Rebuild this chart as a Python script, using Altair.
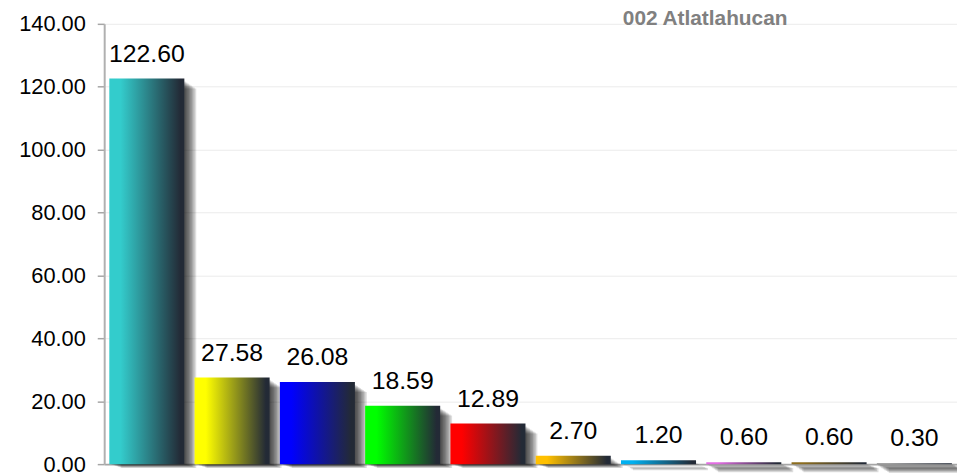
import altair as alt
import pandas as pd

# ---- data ----
categories = ["PANAL", "PRD", "PAN", "PVEM", "PRI", "MC", "PSD", "PT", "PES", "PH"]
values = [122.60, 27.58, 26.08, 18.59, 12.89, 2.70, 1.20, 0.60, 0.60, 0.30]
colors = ["#33CCCC", "#FFFF00", "#0000FF", "#00FF00", "#FF0000",
          "#FFC000", "#00B0F0", "#E36CE3", "#8C6D1F", "#8A8A8A"]
y_ticks = [0, 20, 40, 60, 80, 100, 120, 140]
title_text = "002 Atlatlahucan"

df = pd.DataFrame({"cat": categories, "val": values})

FONT = "Liberation Sans"
DARK = "#232a36"

x_enc = alt.X(
    "cat:N", sort=categories,
    scale=alt.Scale(paddingInner=0.12, paddingOuter=0.06),
    axis=alt.Axis(labels=False, ticks=False, title=None, grid=False,
                  domainColor="#a6a6a6", domainWidth=2),
)
y_enc = alt.Y(
    "val:Q",
    scale=alt.Scale(domain=[0, 140], nice=False, zero=True),
    axis=alt.Axis(values=y_ticks, format=".2f", title=None,
                  labelFont=FONT, labelFontSize=22, labelColor="#000000",
                  labelPadding=12, tickSize=7, tickColor="#a6a6a6", tickWidth=1.5,
                  domainColor="#b0b0b0", domainWidth=2,
                  grid=True, gridColor="#ebebeb", gridWidth=1),
)

base = alt.Chart(df)

layers = []
# soft drop shadow built from stacked, offset translucent bars
for k in range(1, 9):
    layers.append(
        base.mark_bar(color="#000000", opacity=0.13,
                      xOffset=1.5 * k, yOffset=2 + k, y2Offset=0.5 * k)
        .encode(x=x_enc, y=y_enc, y2=alt.datum(0))
    )

# one gradient bar per category
for cat, col in zip(categories, colors):
    grad = alt.Gradient(
        gradient="linear", x1=0, x2=1, y1=0, y2=0,
        stops=[alt.GradientStop(color=col, offset=0),
               alt.GradientStop(color=col, offset=0.15),
               alt.GradientStop(color=DARK, offset=0.95),
               alt.GradientStop(color=DARK, offset=1)],
    )
    layers.append(
        base.transform_filter(alt.datum.cat == cat)
        .mark_bar(fill=grad, strokeWidth=0)
        .encode(x=x_enc, y=y_enc, y2=alt.datum(0))
    )

labels = base.mark_text(
    dy=-17, baseline="alphabetic", align="center",
    fontSize=25, font=FONT, color="#000000",
).encode(x=x_enc, y=y_enc, text=alt.Text("val:Q", format=".2f"))
layers.append(labels)

# chart title, drawn as a text annotation just above the plot area
title_df = pd.DataFrame({"t": [title_text]})
title_mark = alt.Chart(title_df).mark_text(
    align="center", baseline="alphabetic", fontSize=21, fontWeight="bold",
    font=FONT, color="#808080",
).encode(x=alt.value(606), y=alt.value(1), text="t:N")
layers.append(title_mark)

chart = alt.layer(*layers).properties(
    width=860, height=444,
    autosize=alt.AutoSizeParams(type="none"),
    padding={"left": 97, "top": 14, "right": 0, "bottom": 10},
).configure_view(stroke=None)

chart.save("out.html", embed_options={"renderer": "svg", "actions": False})
